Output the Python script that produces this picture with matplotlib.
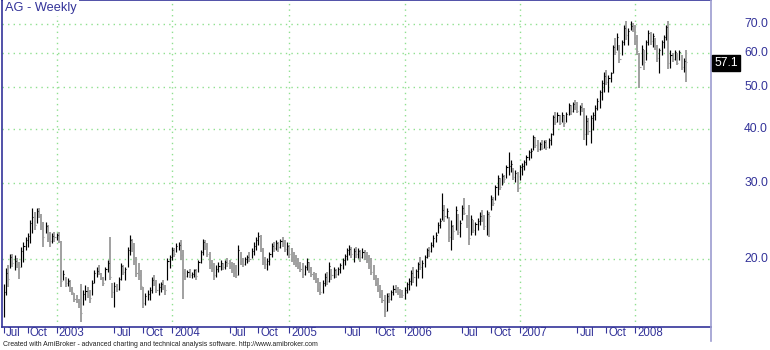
import numpy as np
import pandas as pd
import matplotlib
matplotlib.use("Agg")
import matplotlib.pyplot as plt
import matplotlib.transforms as mtransforms
from matplotlib.lines import Line2D

plt.rcParams['font.family'] = ['Liberation Sans', 'DejaVu Sans']

# weekly bars of AG, first bar week ending 2002-07-19
start_date = "2002-07-19"

high = [17.5, 19.1, 19.4, 20.6, 20.6, 20.45, 20.1, 19.7, 21.3, 21.9,
        22.5, 23.0, 24.6, 26.2, 25.7, 26.2, 26.3, 25.5, 24.4, 24.4,
        24.0, 23.1, 23.0, 23.1, 23.0, 23.1, 22.0, 18.9, 18.2, 18.1,
        17.9, 17.2, 16.7, 16.5, 16.2, 17.5, 17.0, 17.4, 17.2, 17.0,
        17.9, 18.9, 19.2, 19.4, 18.6, 18.2, 19.2, 19.9, 22.5, 17.6,
        17.7, 17.5, 18.2, 19.6, 19.4, 19.2, 21.3, 22.7, 22.3, 21.8,
        20.2, 19.6, 18.9, 17.2, 16.7, 17.0, 17.2, 18.2, 18.4, 17.9,
        17.6, 17.7, 17.9, 17.4, 20.1, 20.45, 21.3, 21.2, 21.8, 21.9,
        22.1, 21.0, 19.0, 18.9, 19.0, 18.7, 19.0, 19.0, 19.9, 21.0,
        22.3, 22.1, 21.8, 20.8, 19.9, 19.6, 19.4, 19.7, 19.9, 19.6,
        19.9, 20.1, 19.9, 19.7, 19.6, 19.4, 21.6, 20.8, 20.1, 20.2,
        20.45, 20.8, 21.2, 21.9, 22.5, 23.1, 22.7, 21.2, 20.2, 20.1,
        20.8, 21.8, 21.9, 22.1, 21.9, 22.3, 22.5, 22.1, 21.9, 21.6,
        21.2, 20.8, 20.45, 20.1, 19.7, 19.6, 19.4, 20.1, 19.7, 19.2,
        18.7, 18.6, 18.1, 17.7, 17.9, 18.6, 18.7, 19.7, 19.0, 19.2,
        19.0, 19.2, 19.6, 20.1, 20.6, 21.2, 21.6, 21.3, 21.2, 21.3,
        21.2, 21.0, 21.2, 21.0, 20.8, 20.45, 20.1, 19.4, 18.4, 18.1,
        17.4, 17.0, 16.5, 16.7, 16.7, 17.0, 17.4, 17.4, 17.2, 17.1,
        17.0, 17.2, 17.7, 18.1, 18.9, 19.2, 19.0, 19.7, 20.2, 19.9,
        20.45, 21.2, 21.3, 21.9, 22.7, 23.1, 24.4, 24.9, 28.4, 26.7,
        26.2, 25.0, 24.6, 24.0, 26.5, 25.5, 24.6, 26.7, 27.7, 25.3,
        26.7, 25.3, 24.6, 24.4, 24.9, 25.7, 26.0, 25.3, 26.0, 25.7,
        28.1, 27.9, 29.7, 31.3, 30.8, 31.6, 31.3, 33.0, 35.4, 33.9,
        32.5, 32.1, 31.8, 33.0, 33.3, 33.9, 34.9, 35.8, 36.2, 38.8,
        38.4, 37.7, 37.3, 37.7, 37.7, 37.7, 38.1, 39.2, 43.1, 43.7,
        43.7, 43.1, 43.7, 43.1, 43.7, 45.9, 45.4, 46.2, 46.7, 46.2,
        45.4, 45.9, 44.7, 43.1, 42.4, 43.1, 43.7, 45.4, 47.1, 49.2,
        51.9, 54.2, 54.8, 53.3, 54.2, 62.6, 64.9, 66.6, 62.6, 64.3,
        69.6, 71.0, 68.6, 71.0, 70.3, 69.6, 65.9, 60.0, 62.6, 61.0,
        64.3, 67.9, 67.2, 66.6, 64.9, 62.6, 61.6, 64.3, 65.9, 69.6,
        71.0, 61.0, 60.0, 61.0, 60.0, 61.0, 59.3, 58.4, 61.0]

low = [14.7, 16.5, 17.2, 19.1, 19.2, 18.9, 19.1, 18.0, 19.2, 19.7,
       21.0, 21.3, 21.8, 23.0, 23.3, 24.2, 24.9, 23.3, 21.3, 23.0,
       21.9, 21.3, 21.8, 21.9, 22.1, 21.8, 17.2, 17.9, 17.2, 17.3,
       16.8, 16.5, 15.9, 15.8, 15.4, 14.3, 15.7, 16.1, 16.3, 15.8,
       16.5, 17.6, 18.2, 18.4, 17.9, 17.3, 17.9, 18.7, 17.9, 16.3,
       15.5, 16.8, 17.0, 17.9, 18.4, 17.9, 19.2, 20.45, 20.8, 19.4,
       18.2, 17.9, 17.0, 15.4, 15.7, 16.1, 16.1, 16.7, 17.3, 16.7,
       16.5, 16.8, 17.0, 16.5, 17.9, 19.1, 19.9, 20.2, 20.8, 21.0,
       19.9, 16.2, 17.9, 18.2, 18.1, 18.1, 18.2, 17.9, 18.7, 19.6,
       20.45, 21.0, 20.2, 19.0, 18.7, 17.9, 18.2, 18.7, 18.9, 18.9,
       19.0, 19.2, 19.0, 18.6, 18.2, 18.1, 18.4, 19.4, 19.2, 19.4,
       19.6, 19.7, 20.1, 20.45, 21.0, 21.6, 20.8, 19.4, 19.0, 18.9,
       19.4, 20.2, 20.8, 21.0, 20.8, 21.2, 21.3, 20.8, 20.45, 20.1,
       19.7, 19.4, 19.2, 19.0, 18.7, 18.1, 18.4, 18.9, 18.6, 18.2,
       17.9, 17.6, 16.8, 16.5, 16.7, 17.3, 17.4, 17.7, 17.9, 18.1,
       18.1, 18.4, 18.6, 19.0, 19.4, 19.9, 20.45, 20.1, 19.7, 20.1,
       20.1, 19.7, 20.1, 19.9, 19.6, 19.0, 18.4, 17.9, 17.3, 16.8,
       16.3, 15.8, 14.7, 15.2, 15.8, 16.1, 16.5, 16.7, 16.5, 16.3,
       16.3, 16.2, 16.7, 17.0, 17.4, 17.6, 17.3, 18.1, 18.9, 18.1,
       19.2, 20.1, 20.2, 20.8, 21.3, 21.9, 23.0, 23.6, 24.6, 24.4,
       24.9, 21.9, 21.0, 22.1, 23.3, 22.7, 22.5, 24.6, 25.3, 23.6,
       21.6, 22.7, 23.0, 22.7, 23.3, 24.0, 24.4, 23.3, 22.7, 22.5,
       26.0, 26.5, 27.4, 28.1, 28.9, 29.7, 30.0, 30.8, 31.3, 31.8,
       30.5, 30.2, 28.6, 30.5, 31.3, 32.1, 33.0, 33.9, 34.3, 35.8,
       36.2, 35.4, 35.8, 35.8, 36.2, 35.8, 36.2, 36.8, 38.8, 40.9,
       41.6, 40.9, 41.6, 40.5, 41.6, 43.1, 43.1, 43.8, 44.3, 43.5,
       43.1, 43.8, 37.7, 36.8, 38.8, 37.1, 39.8, 42.0, 44.3, 44.7,
       46.7, 48.7, 50.5, 48.7, 51.3, 54.0, 59.3, 61.0, 56.9, 59.3,
       62.6, 64.3, 62.6, 67.9, 67.2, 62.6, 59.3, 49.7, 56.3, 54.8,
       57.8, 62.6, 62.6, 61.9, 61.0, 57.2, 53.9, 59.3, 61.6, 64.3,
       55.0, 55.5, 57.2, 57.8, 56.3, 57.8, 54.8, 54.2, 51.3]

close = [16.8, 18.6, 18.0, 20.2, 19.6, 19.8, 19.5, 19.2, 20.9, 21.5,
         22.2, 22.6, 24.2, 25.0, 24.0, 25.8, 25.2, 23.8, 22.5, 23.9,
         22.4, 22.0, 22.6, 22.5, 22.7, 22.0, 17.8, 18.5, 17.6, 17.8,
         17.1, 16.8, 16.2, 16.0, 15.8, 15.0, 16.6, 16.9, 16.5, 16.3,
         17.6, 18.6, 18.8, 18.6, 18.1, 17.6, 19.0, 19.6, 18.2, 16.8,
         17.3, 17.1, 18.0, 19.3, 18.7, 19.0, 21.0, 22.2, 21.2, 19.8,
         18.6, 18.4, 17.3, 15.8, 16.4, 16.6, 17.0, 17.9, 17.6, 17.0,
         17.2, 17.5, 17.2, 17.0, 19.8, 20.2, 21.0, 20.6, 21.5, 21.6,
         20.4, 18.6, 18.3, 18.7, 18.4, 18.5, 18.9, 18.3, 19.7, 20.8,
         21.9, 21.4, 20.6, 19.4, 19.1, 18.4, 19.0, 19.3, 19.6, 19.2,
         19.7, 19.6, 19.3, 18.9, 18.6, 18.4, 21.0, 19.8, 19.5, 20.0,
         20.2, 20.0, 20.9, 21.5, 22.1, 22.6, 21.1, 19.7, 19.5, 19.8,
         20.6, 21.5, 21.2, 21.8, 21.3, 22.0, 21.8, 21.1, 21.4, 20.6,
         20.2, 19.9, 19.6, 19.3, 19.0, 18.5, 19.2, 19.7, 18.9, 18.5,
         18.1, 17.8, 17.1, 16.8, 17.6, 18.2, 17.8, 19.3, 18.4, 18.9,
         18.5, 19.0, 19.4, 19.9, 20.3, 21.0, 21.1, 20.6, 20.9, 20.5,
         20.9, 20.2, 20.8, 20.3, 19.9, 19.3, 18.7, 18.1, 17.6, 17.1,
         16.6, 16.1, 15.2, 16.4, 16.2, 16.8, 17.1, 16.9, 16.8, 16.6,
         16.5, 17.0, 17.5, 17.8, 18.6, 18.2, 18.8, 19.5, 19.2, 19.6,
         20.2, 21.0, 20.9, 21.6, 22.4, 22.8, 24.0, 24.5, 26.0, 25.1,
         25.8, 22.5, 23.8, 23.2, 26.0, 23.1, 24.3, 26.2, 25.6, 24.0,
         22.4, 24.8, 23.4, 24.1, 24.5, 25.2, 24.7, 23.8, 25.5, 25.2,
         27.6, 27.0, 29.3, 30.8, 29.4, 31.2, 30.6, 32.6, 32.8, 33.2,
         31.0, 31.6, 29.2, 32.7, 32.9, 33.6, 34.5, 35.3, 35.6, 38.3,
         36.8, 36.0, 36.9, 36.2, 37.3, 36.4, 37.8, 38.9, 42.6, 41.5,
         43.2, 41.4, 43.0, 41.2, 43.3, 45.4, 44.0, 45.8, 45.1, 44.1,
         44.9, 44.6, 39.0, 41.8, 39.6, 42.5, 43.2, 44.8, 46.5, 48.6,
         51.2, 53.0, 51.4, 52.6, 53.8, 61.8, 60.2, 65.4, 58.0, 63.5,
         68.7, 66.0, 67.5, 69.4, 68.0, 64.0, 60.5, 55.8, 61.2, 57.2,
         63.5, 66.8, 64.0, 65.5, 62.2, 58.4, 60.8, 63.6, 65.2, 68.8,
         57.0, 59.5, 58.0, 60.2, 57.0, 60.4, 55.8, 57.6, 57.1]

price_levels = [20, 30, 40, 50, 60, 70]
title = "AG - Weekly"
footer = ("Created with AmiBroker - advanced charting and technical analysis "
          "software. http://www.amibroker.com")

W, H = 770, 350
blue = '#333399'
grid_green = '#8fe08f'

n = len(close)
x = np.arange(n)
dates = pd.date_range(start=start_date, periods=n, freq='W-FRI')
high = np.array(high)
low = np.array(low)
close = np.array(close)

fig = plt.figure(figsize=(W / 100, H / 100), dpi=100)
ax = fig.add_axes([2 / W, (H - 327) / H, (711 - 2) / W, 327 / H])
ax.set_yscale('log')
ax.set_ylim(13.93, 79.55)
ax.set_xlim(-0.68, 319.3)

# grid
for lv in price_levels:
    ax.axhline(lv, color=grid_green, lw=1.0, ls=(0, (1, 3)), zorder=0)

# x ticks: first bar of Jan / Jul / Oct
tick_pos, tick_lab = [], []
prev_month = None
for i, d in enumerate(dates):
    if d.month != prev_month:
        if d.month in (1, 7, 10):
            tick_pos.append(i)
            tick_lab.append(str(d.year) if d.month == 1 else d.strftime('%b'))
            if d.month == 1:
                ax.axvline(i, color=grid_green, lw=1.0, ls=(0, (1, 3)), zorder=0)
        prev_month = d.month

# bars: black when the week closed higher, grey when lower
up = np.r_[True, close[1:] >= close[:-1]]
cols = np.where(up, 'black', '#9c9c9c')
lws = np.where(up, 0.85, 1.35)
ax.vlines(x, low, high, colors=cols, linewidths=lws, zorder=3)
ax.hlines(close, x, x + 0.5, colors=cols, linewidths=0.8, zorder=3)

# spines
for s in ['left', 'top', 'bottom']:
    ax.spines[s].set_color(blue)
    ax.spines[s].set_linewidth(1.2)
ax.spines['right'].set_visible(False)
fig.add_artist(Line2D([711 / W, 711 / W], [1, 1 - 341 / H],
                      color='#9c9cd0', lw=1.2, transform=fig.transFigure))

ax.set_yticks([])
ax.set_yticks([], minor=True)
ax.set_xticks(tick_pos)
ax.set_xticklabels([])
ax.tick_params(axis='x', direction='out', length=4, width=0.8, color=blue)
for p, lab in zip(tick_pos, tick_lab):
    ax.annotate(lab, xy=(p, 0), xycoords=('data', 'axes fraction'),
                xytext=(1.5, -4.6), textcoords='offset points',
                ha='left', va='center', fontsize=8.3, color=blue)

# price labels on the right
trans = mtransforms.blended_transform_factory(fig.transFigure, ax.transData)
for lv in price_levels:
    ax.text(768 / W, lv, f"{lv:.1f}", transform=trans, ha='right', va='center',
            fontsize=8.7, color=blue, clip_on=False)

fig.text(726 / W, 1 - 63 / H, f"{close[-1]:.1f}", ha='center', va='center',
         fontsize=8.7, color='white',
         bbox=dict(boxstyle='square,pad=0.2', fc='black', ec='black'))

ax.text(3 / 709, 1 - 8 / 327, title, transform=ax.transAxes, ha='left',
        va='center', fontsize=9.2, color=blue, zorder=5,
        bbox=dict(boxstyle='square,pad=0.15', fc='white', ec='none'))

fig.text(3 / W, 1 - 344 / H, footer, ha='left', va='center', fontsize=4.95,
         color='#222222')

fig.savefig('out.png', dpi=100)
